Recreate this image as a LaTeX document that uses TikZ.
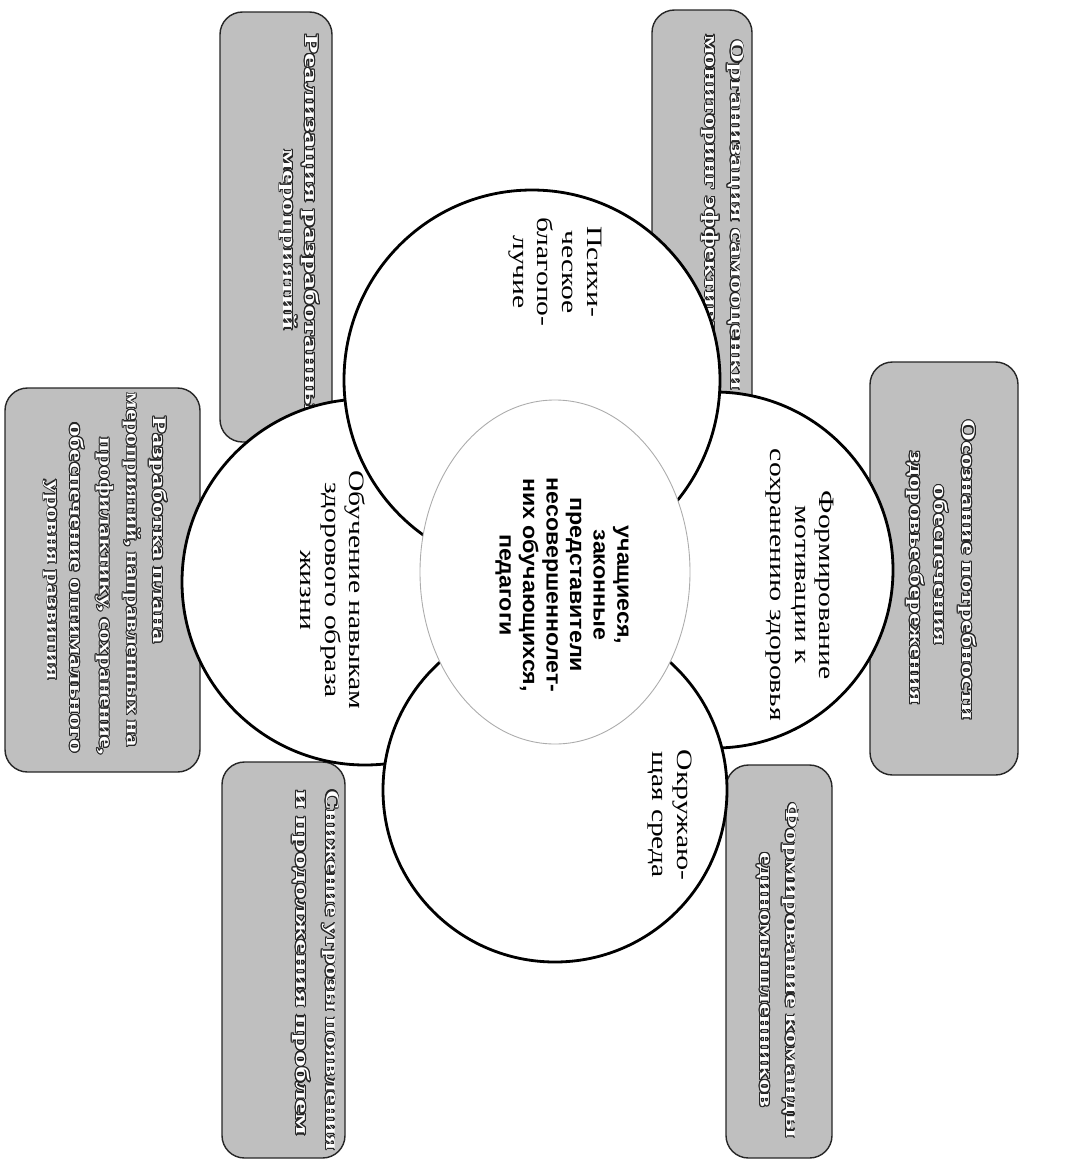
\documentclass[tikz,border=0pt]{standalone}
\usepackage{fontspec}
\setmainfont{Liberation Serif}
\newfontfamily\circfont[FakeStretch=1.35]{Liberation Serif}
\newfontfamily\ctrfont[FakeStretch=1.1]{Liberation Sans}
\usepackage{graphicx}
\usepackage{contour}
\contourlength{0.45pt}
\newlength\pxu \setlength\pxu{0.02cm}
\newcommand\bxl[2]{\resizebox{#1\pxu}{\height}{\contour{black!85}{#2}}}
\tikzset{
  gbox/.style={draw=black!85, line width=0.8pt, fill=gray!50, rounded corners=0.45cm},
  bline/.style={rotate=-90, inner sep=0pt, text=white, font=\bfseries\fontsize{11}{13}\selectfont},
  ctext/.style={rotate=-90, align=center, inner sep=0pt, font=\circfont\fontsize{12.5}{14}\selectfont},
  mtext/.style={rotate=-90, align=center, inner sep=0pt, font=\ctrfont\bfseries\fontsize{12}{13.4}\selectfont},
  disc/.style={draw=black, fill=white, line width=1.6pt},
  inner/.style={draw=gray!65, fill=white, line width=0.5pt}
}
\begin{document}
\begin{tikzpicture}[x=0.02cm,y=-0.02cm]
\useasboundingbox (0,0) rectangle (1079,1163);
% outer boxes
\path[gbox] (220,12) rectangle (332,442);
\path[gbox] (652,10) rectangle (752,445);
\path[gbox] (870,362) rectangle (1018,775);
\path[gbox] (726,765) rectangle (832,1158);
\path[gbox] (222,762) rectangle (345,1158);
\path[gbox] (5,388) rectangle (200,772);
% box texts
\node[bline] (tl1) at (310,232) {\bxl{395}{Реализация разработанных}};
\node[bline] (tl2) at (288,240) {\bxl{180}{мероприятий}};
\node[bline] (tr1) at (735,215) {\bxl{350}{Организация самооценки}};
\node[bline] (tr2) at (710,215) {\bxl{360}{мониторинг эффективности}};
\node[bline] (r1) at (967,570) {\bxl{300}{Осознание потребности}};
\node[bline] (r2) at (941,565) {\bxl{160}{обеспечения}};
\node[bline] (r3) at (915,578) {\bxl{253}{здоровьесбережения}};
\node[bline] (br1) at (790,970) {\bxl{335}{Формирование команды}};
\node[bline] (br2) at (763,980) {\bxl{255}{единомышленников}};
\node[bline] (bl1) at (330,970) {\bxl{360}{Снижение угрозы появления}};
\node[bline] (bl2) at (301,963) {\bxl{345}{и продолжения проблем}};
\node[bline] (l1) at (158,530) {\bxl{227}{Разработка плана}};
\node[bline] (l2) at (131,570) {\bxl{354}{мероприятий, направленных на}};
\node[bline] (l3) at (104,596) {\bxl{317}{профилактику, сохранение,}};
\node[bline] (l4) at (77,588) {\bxl{330}{обеспечение оптимального}};
\node[bline] (l5) at (50,580) {\bxl{200}{уровня развития}};
% circles (later ones lie over earlier ones)
\path[disc] (715,570) circle [radius=178];
\path[disc] (365,582) circle [radius=183];
\path[disc] (532,380) ellipse [x radius=188, y radius=190];
\path[disc] (555,790) circle [radius=172];
\path[inner] (555,572) ellipse [x radius=135, y radius=172];
% circle texts
\node[ctext] (psy) at (555,272) {Психи-\\ческое\\благопо-\\лучие};
\node[ctext] (mot) at (800,585) {Формирование\\мотивации к\\сохранению здоровья};
\node[ctext] (env) at (670,815) {Окружаю-\\щая среда};
\node[ctext] (edu) at (333,590) {Обучение навыкам\\здорового образа\\жизни};
\node[mtext] (ctr) at (562,585) {учащиеся,\\законные\\представители\\несовершеннолет-\\них обучающихся,\\педагоги};
\end{tikzpicture}
\end{document}
